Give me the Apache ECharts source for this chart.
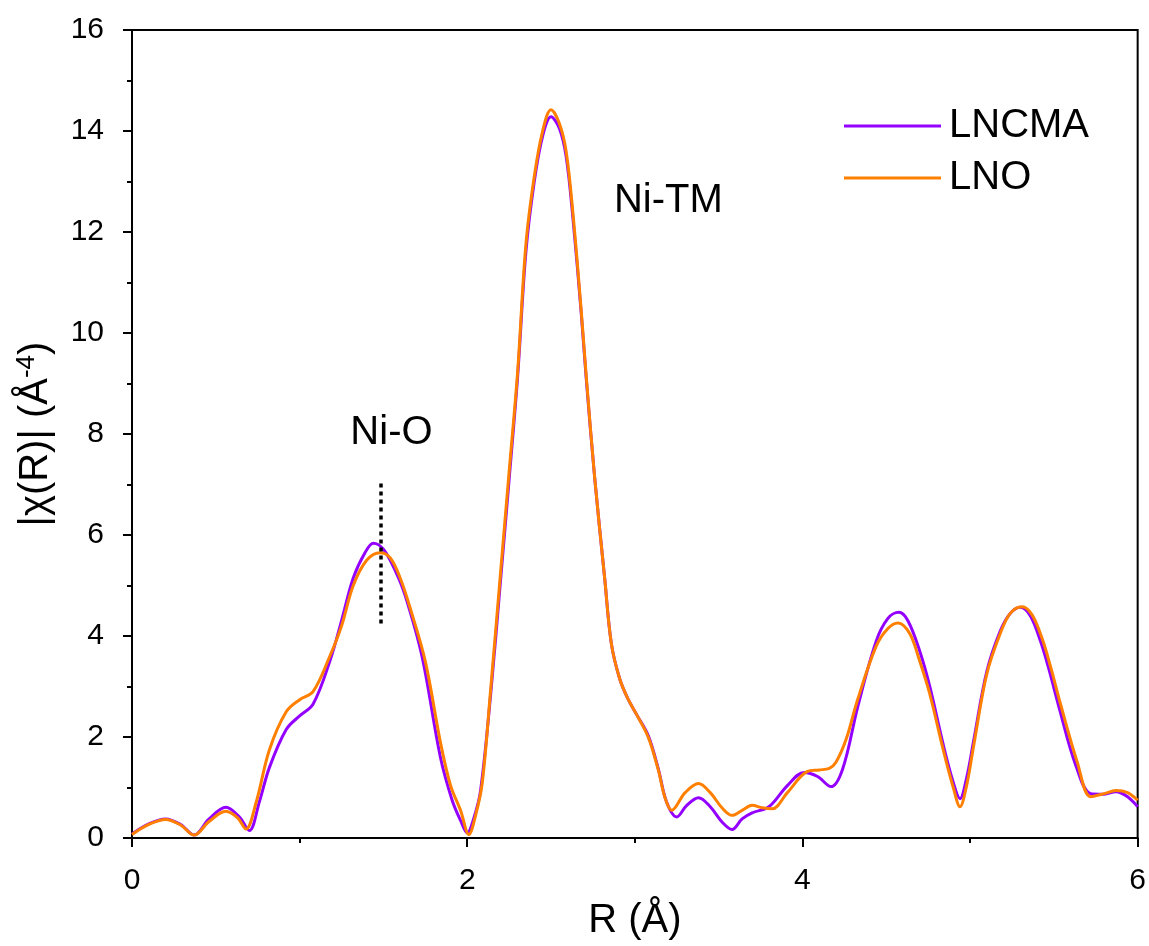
<!DOCTYPE html>
<html>
<head>
<meta charset="utf-8">
<title>EXAFS |χ(R)|</title>
<script src="https://cdn.jsdelivr.net/npm/echarts@6/dist/echarts.min.js"></script>
<style>
  html, body { margin: 0; padding: 0; background: #fff; }
  #chart { width: 1149px; height: 946px; }
</style>
</head>
<body>
<div id="chart"></div>
<script>
// Fourier-transformed EXAFS magnitude, R in Å, |χ(R)| in Å^-4
const rLNCMA = [0, 0.1, 0.2, 0.29, 0.37, 0.46, 0.56, 0.64, 0.70, 0.76, 0.82, 0.92, 1.0, 1.08, 1.18, 1.25, 1.32, 1.39, 1.44, 1.50, 1.57, 1.63, 1.73, 1.84, 1.91, 1.96, 2.0, 2.04, 2.08, 2.14, 2.20, 2.25, 2.30, 2.35, 2.40, 2.45, 2.50, 2.55, 2.59, 2.63, 2.68, 2.71, 2.76, 2.82, 2.86, 2.91, 2.96, 3.01, 3.08, 3.14, 3.19, 3.25, 3.31, 3.38, 3.45, 3.52, 3.58, 3.64, 3.70, 3.80, 3.91, 4.01, 4.09, 4.17, 4.24, 4.33, 4.44, 4.51, 4.575, 4.63, 4.70, 4.76, 4.84, 4.90, 4.94, 4.98, 5.02, 5.10, 5.18, 5.24, 5.30, 5.36, 5.42, 5.47, 5.53, 5.63, 5.72, 5.80, 5.87, 5.94, 6.0];
const vLNCMA = [0.08, 0.28, 0.38, 0.27, 0.06, 0.38, 0.61, 0.42, 0.15, 0.72, 1.4, 2.15, 2.42, 2.65, 3.5, 4.3, 5.15, 5.65, 5.84, 5.72, 5.3, 4.8, 3.6, 1.6, 0.75, 0.35, 0.1, 0.4, 0.95, 2.85, 5.15, 7.1, 9.1, 11.6, 13.0, 13.9, 14.28, 14.05, 13.5, 12.3, 10.4, 9.1, 7.15, 5.15, 3.85, 3.15, 2.75, 2.45, 2.03, 1.37, 0.71, 0.42, 0.65, 0.80, 0.62, 0.32, 0.17, 0.38, 0.5, 0.62, 1.04, 1.30, 1.22, 1.02, 1.37, 2.6, 3.9, 4.35, 4.47, 4.3, 3.7, 3.0, 1.85, 1.1, 0.78, 1.2, 1.9, 3.3, 4.1, 4.45, 4.57, 4.4, 3.9, 3.35, 2.6, 1.45, 0.88, 0.87, 0.92, 0.82, 0.62];

const rLNO = [0, 0.1, 0.2, 0.29, 0.37, 0.46, 0.56, 0.63, 0.68, 0.74, 0.82, 0.92, 1.0, 1.08, 1.18, 1.25, 1.32, 1.40, 1.48, 1.54, 1.60, 1.66, 1.75, 1.84, 1.90, 1.96, 2.01, 2.05, 2.09, 2.14, 2.20, 2.25, 2.30, 2.35, 2.40, 2.45, 2.50, 2.55, 2.59, 2.63, 2.68, 2.71, 2.76, 2.82, 2.86, 2.91, 2.96, 3.01, 3.08, 3.14, 3.18, 3.22, 3.30, 3.38, 3.45, 3.52, 3.58, 3.64, 3.70, 3.76, 3.82, 3.91, 4.03, 4.10, 4.16, 4.20, 4.26, 4.33, 4.44, 4.51, 4.57, 4.64, 4.70, 4.76, 4.84, 4.90, 4.94, 4.98, 5.02, 5.10, 5.18, 5.24, 5.31, 5.37, 5.43, 5.48, 5.54, 5.64, 5.72, 5.80, 5.87, 5.94, 6.0];
const vLNO = [0.07, 0.27, 0.37, 0.26, 0.06, 0.33, 0.53, 0.4, 0.18, 0.7, 1.75, 2.5, 2.74, 2.9, 3.6, 4.2, 5.0, 5.5, 5.65, 5.55, 5.15, 4.55, 3.5, 1.9, 1.05, 0.55, 0.07, 0.45, 1.1, 2.95, 5.3, 7.25, 9.2, 11.75, 13.1, 14.0, 14.42, 14.15, 13.6, 12.4, 10.45, 9.15, 7.15, 5.15, 3.85, 3.15, 2.75, 2.45, 2.0, 1.35, 0.8, 0.55, 0.9, 1.08, 0.9, 0.6, 0.45, 0.55, 0.65, 0.6, 0.58, 0.9, 1.32, 1.35, 1.38, 1.5, 1.95, 2.75, 3.8, 4.15, 4.26, 4.05, 3.5, 2.85, 1.75, 1.0, 0.62, 1.05, 1.8, 3.25, 4.05, 4.45, 4.58, 4.42, 3.95, 3.4, 2.65, 1.5, 0.82, 0.88, 0.94, 0.9, 0.75];

// Ni-O first-shell marker (dotted) and peak labels, in data units
const niOMarker = { r: 1.485, from: 4.25, to: 7.1 };
const peakLabels = [
  { text: 'Ni-O', r: 1.548, v: 8.03 },
  { text: 'Ni-TM', r: 3.2, v: 12.62 }
];

const xTicks = { min: 0, max: 6, interval: 2 };
const yTicks = { min: 0, max: 16, interval: 2 };

const FONT = 'Liberation Sans, Arial, sans-serif';
const zip = (xs, ys) => xs.map((x, i) => [x, ys[i]]);

const chart = echarts.init(document.getElementById('chart'), null, { renderer: 'canvas' });

chart.setOption({
  backgroundColor: '#fff',
  animation: false,
  grid: {
    left: 132, right: 11, top: 30, bottom: 103,
    show: true, borderColor: '#000', borderWidth: 2, backgroundColor: 'transparent'
  },
  legend: {
    orient: 'vertical',
    left: 839, top: 100,
    itemWidth: 97, itemHeight: 3, itemGap: 10,
    textStyle: { fontFamily: FONT, fontSize: 40, lineHeight: 42, color: '#000', padding: [0, 0, 0, 3] },
    data: [{ name: 'LNCMA', icon: 'rect' }, { name: 'LNO', icon: 'rect' }]
  },
  xAxis: {
    type: 'value',
    min: xTicks.min, max: xTicks.max, interval: xTicks.interval,
    name: 'R (Å)', nameLocation: 'middle', nameGap: 56,
    nameTextStyle: { fontFamily: FONT, fontSize: 40, color: '#000' },
    axisLine: { onZero: false, lineStyle: { color: '#000', width: 2 } },
    axisTick: { inside: false, length: 9, lineStyle: { color: '#000', width: 2 } },
    minorTick: { show: true, splitNumber: 2, length: 5, lineStyle: { color: '#000', width: 2 } },
    axisLabel: { fontFamily: FONT, fontSize: 30, color: '#000', margin: 28 },
    splitLine: { show: false }
  },
  yAxis: {
    type: 'value',
    min: yTicks.min, max: yTicks.max, interval: yTicks.interval,
    name: '|χ(R)| (Å{sup|-4})', nameLocation: 'middle', nameGap: 74,
    nameTextStyle: {
      fontFamily: FONT, fontSize: 40, color: '#000',
      rich: { sup: { fontFamily: FONT, fontSize: 26, color: '#000', verticalAlign: 'top', padding: [0, 0, 18, 0] } }
    },
    axisLine: { lineStyle: { color: '#000', width: 2 } },
    axisTick: { inside: false, length: 9, lineStyle: { color: '#000', width: 2 } },
    minorTick: { show: true, splitNumber: 2, length: 5, lineStyle: { color: '#000', width: 2 } },
    axisLabel: { fontFamily: FONT, fontSize: 30, color: '#000', margin: 28 },
    splitLine: { show: false }
  },
  series: [
    {
      name: 'LNCMA', type: 'line', data: zip(rLNCMA, vLNCMA),
      smooth: 0.35, symbol: 'none',
      lineStyle: { color: '#9400ff', width: 3 }, itemStyle: { color: '#9400ff' },
      z: 2
    },
    {
      name: 'LNO', type: 'line', data: zip(rLNO, vLNO),
      smooth: 0.35, symbol: 'none',
      lineStyle: { color: '#ff8000', width: 3 }, itemStyle: { color: '#ff8000' },
      z: 3,
      markLine: {
        silent: true, symbol: 'none', animation: false,
        label: { show: false },
        lineStyle: { color: '#000', type: [4, 4], width: 3.5 },
        data: [[{ coord: [niOMarker.r, niOMarker.from] }, { coord: [niOMarker.r, niOMarker.to] }]]
      },
      markPoint: {
        silent: true, symbol: 'circle', symbolSize: 0,
        label: {
          show: true, position: 'inside', color: '#000',
          fontFamily: FONT, fontSize: 40,
          formatter: p => p.name
        },
        data: peakLabels.map(l => ({ name: l.text, coord: [l.r, l.v] }))
      }
    }
  ]
});
</script>
</body>
</html>
